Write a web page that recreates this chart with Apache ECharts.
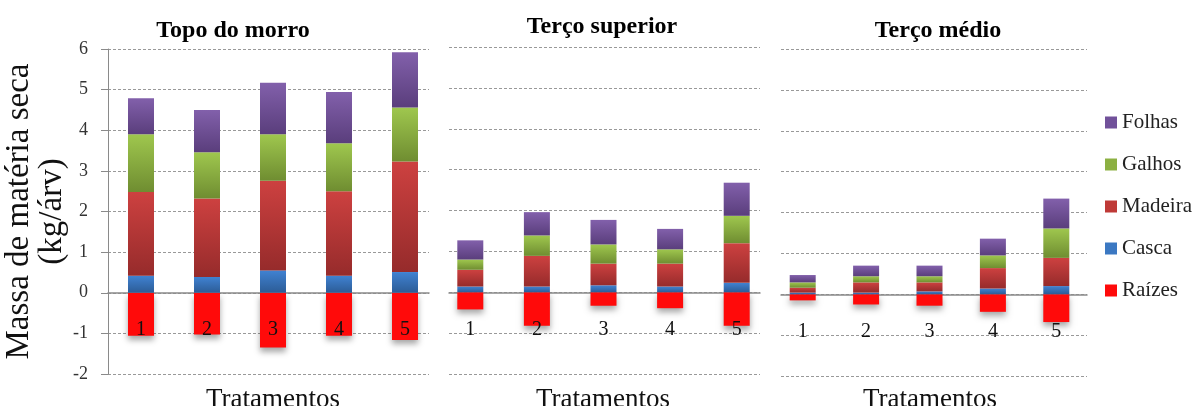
<!DOCTYPE html>
<html>
<head>
<meta charset="utf-8">
<script src="https://cdn.jsdelivr.net/npm/echarts@6/dist/echarts.min.js"></script>
<style>html,body{margin:0;padding:0;background:#fff;}#c{width:1197px;height:406px;}</style>
</head>
<body>
<div id="c"></div>
<script>
// ---- data ----
var categories = ['1', '2', '3', '4', '5'];
var seriesNames = ['Raízes', 'Casca', 'Madeira', 'Galhos', 'Folhas'];
var legendOrder = ['Folhas', 'Galhos', 'Madeira', 'Casca', 'Raízes'];
var panelTitles = ['Topo do morro', 'Terço superior', 'Terço médio'];
var xTitle = 'Tratamentos';
var yTitle = 'Massa de matéria seca\n(kg/árv)';
var yMin = -2, yMax = 6, yInterval = 1;

var topoRaizes  = [-1.06, -1.03, -1.35, -1.06, -1.16];
var topoCasca   = [0.42, 0.39, 0.55, 0.42, 0.51];
var topoMadeira = [2.06, 1.93, 2.21, 2.08, 2.72];
var topoGalhos  = [1.42, 1.14, 1.14, 1.18, 1.33];
var topoFolhas  = [0.89, 1.04, 1.27, 1.26, 1.36];

var supRaizes  = [-0.42, -0.82, -0.33, -0.39, -0.82];
var supCasca   = [0.14, 0.14, 0.17, 0.14, 0.23];
var supMadeira = [0.41, 0.75, 0.53, 0.56, 0.97];
var supGalhos  = [0.25, 0.50, 0.47, 0.35, 0.67];
var supFolhas  = [0.47, 0.57, 0.60, 0.50, 0.81];

var medRaizes  = [-0.15, -0.25, -0.28, -0.43, -0.68];
var medCasca   = [0.04, 0.04, 0.07, 0.14, 0.20];
var medMadeira = [0.12, 0.25, 0.22, 0.50, 0.69];
var medGalhos  = [0.13, 0.15, 0.15, 0.31, 0.72];
var medFolhas  = [0.18, 0.26, 0.26, 0.41, 0.73];

var panels = [
  [topoRaizes, topoCasca, topoMadeira, topoGalhos, topoFolhas],
  [supRaizes, supCasca, supMadeira, supGalhos, supFolhas],
  [medRaizes, medCasca, medMadeira, medGalhos, medFolhas]
];

// ---- styling / layout ----
var FONT = "'Liberation Serif', 'Times New Roman', serif";
function grad(a, b) {
  return new echarts.graphic.LinearGradient(0, 0, 0, 1, [{offset: 0, color: a}, {offset: 1, color: b}]);
}
var colors = [
  '#ff0a0a',
  grad('#4082d2', '#2c5c96'),
  grad('#cd4140', '#962b2b'),
  grad('#9fc74e', '#6f8d31'),
  grad('#8260ab', '#5a3e7c')
];
var legendColors = ['#ff0a0a', '#3b78c2', '#bf3a37', '#8cb042', '#71519a'];

var barGrids = [
  {left: 108, width: 330, top: 49, height: 325},
  {left: 437, width: 333, top: 47, height: 327},
  {left: 771, width: 317, top: 49, height: 327}
];
var lineGrids = [
  {left: 108, width: 321, top: 49, height: 325},
  {left: 449, width: 311, top: 47, height: 327},
  {left: 781, width: 306, top: 49, height: 327}
];
var titleCenters = [228, 597, 933];
var titleTops = [14, 10, 14];
var xTitleCenters = [268, 598, 925];

var grids = barGrids.concat(lineGrids).map(function (g) {
  g.containLabel = false;
  g.outerBoundsMode = 'none';
  return g;
});
var xAxes = [], yAxes = [], series = [], titles = [];

for (var p = 0; p < 3; p++) {
  xAxes.push({
    type: 'category', gridIndex: p, data: categories, z: 10, position: 'bottom',
    axisLine: {show: false, onZero: false},
    axisTick: {show: false},
    axisLabel: {margin: -54, fontFamily: FONT, fontSize: 20, color: '#111'},
    splitLine: {show: false}
  });
  yAxes.push({
    type: 'value', gridIndex: p, min: yMin, max: yMax, interval: yInterval,
    axisLine: {show: p === 0, lineStyle: {color: '#8a8a8a', width: 1}},
    axisTick: {show: p === 0, length: 7, lineStyle: {color: '#8a8a8a'}},
    axisLabel: {show: p === 0, margin: 20, fontFamily: FONT, fontSize: 18, color: '#333'},
    splitLine: {show: false},
    name: p === 0 ? yTitle : '',
    nameLocation: 'middle', nameGap: 37, nameRotate: 90,
    nameTextStyle: {fontFamily: FONT, fontSize: 33, lineHeight: 33, color: '#111'}
  });
  titles.push({
    text: panelTitles[p], left: titleCenters[p], top: titleTops[p], textAlign: 'center',
    textStyle: {fontFamily: FONT, fontSize: 24, fontWeight: 'bold', color: '#000'}
  });
  titles.push({
    text: xTitle, left: xTitleCenters[p], top: 381, textAlign: 'center',
    textStyle: {fontFamily: FONT, fontSize: 27, fontWeight: 'normal', color: '#111'}
  });
  for (var s = 0; s < 5; s++) {
    var item = {
      name: seriesNames[s], type: 'bar', stack: 'panel' + p,
      xAxisIndex: p, yAxisIndex: p, barWidth: 26,
      data: panels[p][s],
      itemStyle: {color: colors[s]}
    };
    if (s === 0) {
      item.itemStyle.shadowBlur = 6;
      item.itemStyle.shadowOffsetY = 4;
      item.itemStyle.shadowColor = 'rgba(0,0,0,0.35)';
    }
    series.push(item);
  }
}
for (var q = 0; q < 3; q++) {
  xAxes.push({
    type: 'value', gridIndex: 3 + q, min: 0, max: 1,
    axisLine: {show: true, onZero: true, lineStyle: {color: '#8a8a8a', width: 1.5}},
    axisTick: {show: false}, axisLabel: {show: false}, splitLine: {show: false}
  });
  yAxes.push({
    type: 'value', gridIndex: 3 + q, min: yMin, max: yMax, interval: yInterval,
    axisLine: {show: false}, axisTick: {show: false}, axisLabel: {show: false},
    splitLine: {show: true, lineStyle: {color: '#999', type: [3, 2], width: 1}}
  });
}

var chart = echarts.init(document.getElementById('c'));
chart.setOption({
  animation: false,
  backgroundColor: '#fff',
  title: titles,
  legend: {
    orient: 'vertical', left: 1100, top: 107,
    data: legendOrder.map(function (n) {
      return {name: n, itemStyle: {color: legendColors[seriesNames.indexOf(n)]}};
    }),
    icon: 'rect', itemWidth: 12, itemHeight: 12, itemGap: 21,
    textStyle: {fontFamily: FONT, fontSize: 21, lineHeight: 21, color: '#222'}
  },
  grid: grids,
  xAxis: xAxes,
  yAxis: yAxes,
  series: series
});
</script>
</body>
</html>
